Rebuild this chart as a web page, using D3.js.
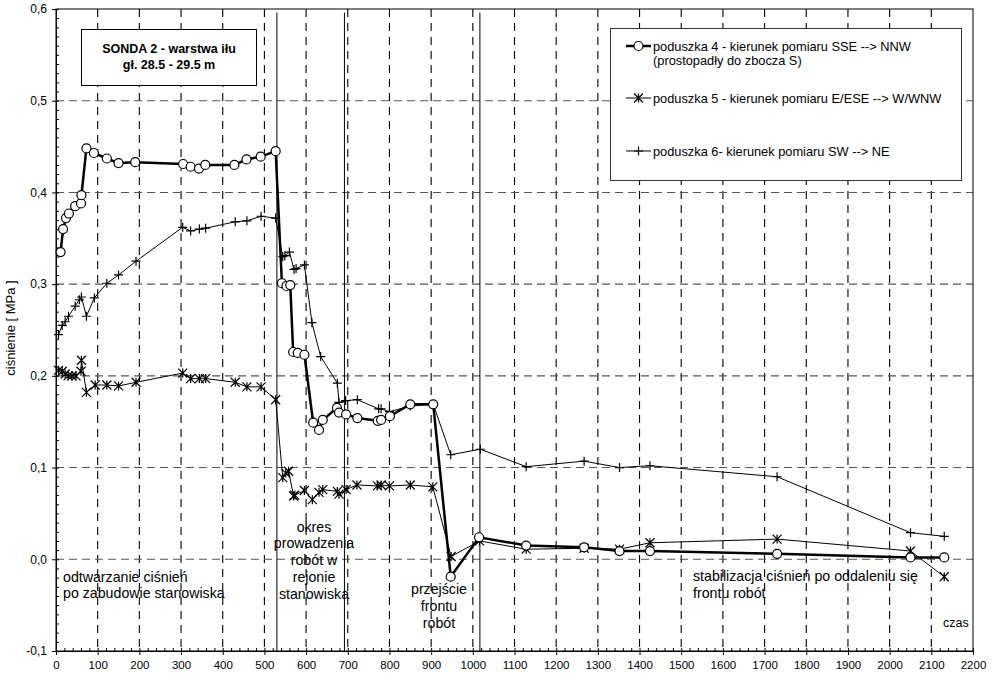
<!DOCTYPE html>
<html>
<head>
<meta charset="utf-8">
<script src="https://cdn.jsdelivr.net/npm/d3@7"></script>
<style>
    body { margin: 0; background: #fff; }
    svg { display: block; font-family: "Liberation Sans", Arial, sans-serif; }
</style>
</head>
<body>
<div id="chart"></div>
<script>
'use strict';

// czas (x) and ciśnienie [MPa] (y)
var s4Time = [11, 17, 24, 31, 46, 60, 61, 73, 91, 122, 150, 190, 305, 323, 343, 358, 428, 457, 491, 527,
    542, 553, 562, 569, 580, 596, 617, 631, 640, 674, 679, 696, 723, 772, 780, 801, 850, 905,
    947, 1015, 1128, 1267, 1352, 1425, 1730, 2050, 2131];
var s4Value = [0.335, 0.360, 0.372, 0.377, 0.385, 0.388, 0.397, 0.448, 0.443, 0.437, 0.432, 0.433, 0.431, 0.428, 0.426, 0.430, 0.430, 0.436, 0.439, 0.445,
    0.301, 0.298, 0.299, 0.226, 0.225, 0.223, 0.149, 0.141, 0.152, 0.165, 0.160, 0.158, 0.154, 0.151, 0.152, 0.156, 0.169, 0.169,
    -0.019, 0.024, 0.015, 0.013, 0.009, 0.009, 0.006, 0.002, 0.002];

var s5Time = [6, 15, 22, 29, 38, 48, 60, 61, 73, 94, 122, 150, 192, 304, 323, 344, 359, 430, 458, 492, 527,
    544, 551, 558, 570, 573, 596, 615, 631, 640, 675, 679, 696, 722, 771, 780, 800, 850, 904,
    948, 1016, 1128, 1267, 1352, 1425, 1730, 2050, 2131];
var s5Value = [0.206, 0.205, 0.202, 0.200, 0.200, 0.200, 0.205, 0.217, 0.182, 0.190, 0.190, 0.189, 0.193, 0.203, 0.197, 0.197, 0.197, 0.193, 0.188, 0.188, 0.174,
    0.089, 0.094, 0.096, 0.069, 0.070, 0.075, 0.065, 0.073, 0.076, 0.074, 0.071, 0.076, 0.081, 0.080, 0.081, 0.080, 0.081, 0.079,
    0.003, 0.020, 0.011, 0.012, 0.011, 0.018, 0.022, 0.009, -0.019];

var s6Time = [6, 15, 22, 30, 46, 56, 61, 73, 92, 122, 150, 192, 304, 323, 344, 359, 430, 458, 492, 527,
    544, 549, 560, 571, 576, 596, 614, 635, 675, 679, 695, 723, 774, 780, 800, 850, 905,
    947, 1018, 1128, 1267, 1352, 1425, 1730, 2050, 2131];
var s6Value = [0.245, 0.255, 0.259, 0.265, 0.276, 0.283, 0.286, 0.265, 0.285, 0.301, 0.310, 0.325, 0.362, 0.358, 0.360, 0.361, 0.368, 0.369, 0.374, 0.372,
    0.330, 0.331, 0.335, 0.316, 0.317, 0.321, 0.258, 0.221, 0.192, 0.171, 0.173, 0.174, 0.164, 0.164, 0.161, 0.167, 0.169,
    0.114, 0.120, 0.101, 0.107, 0.100, 0.102, 0.090, 0.029, 0.025];

var seriesNames = [
    ['poduszka 4 - kierunek pomiaru SSE --> NNW', '(prostopadły do zbocza S)'],
    ['poduszka 5 - kierunek pomiaru E/ESE --> W/WNW'],
    ['poduszka 6- kierunek pomiaru SW --> NE']
];
var phaseBounds = [530, 692, 1017];
var xTicks = d3.range(0, 2201, 100);
var yTicks = [-0.1, 0.0, 0.1, 0.2, 0.3, 0.4, 0.5, 0.6];

(function () {
    var svgWidth = 994, svgHeight = 676;
    var plotLeft = 56, plotRight = 973, plotTop = 9, plotBottom = 651;

    var x = d3.scaleLinear().domain([0, 2200]).range([plotLeft, plotRight]);
    var y = d3.scaleLinear().domain([-0.1, 0.6]).range([plotBottom, plotTop]);

    var svg = d3.select('#chart').append('svg')
        .attr('width', svgWidth)
        .attr('height', svgHeight);

    // grid
    svg.append('g').selectAll('line')
        .data(xTicks.slice(1, -1))
        .enter().append('line')
        .attr('x1', x).attr('x2', x)
        .attr('y1', plotTop).attr('y2', plotBottom)
        .attr('stroke', '#000').attr('stroke-width', 1.1)
        .attr('stroke-dasharray', '8,6');

    svg.append('g').selectAll('line')
        .data(yTicks.slice(1, -1))
        .enter().append('line')
        .attr('x1', plotLeft).attr('x2', plotRight)
        .attr('y1', y).attr('y2', y)
        .attr('stroke', '#555').attr('stroke-width', 1.1)
        .attr('stroke-dasharray', '8,5');

    // phase boundaries
    svg.append('g').selectAll('line')
        .data(phaseBounds)
        .enter().append('line')
        .attr('x1', x).attr('x2', x)
        .attr('y1', y(0.596)).attr('y2', plotBottom)
        .attr('stroke', '#000').attr('stroke-width', 1);

    // frame
    svg.append('rect')
        .attr('x', plotLeft).attr('y', plotTop)
        .attr('width', plotRight - plotLeft).attr('height', plotBottom - plotTop)
        .attr('fill', 'none').attr('stroke', '#000').attr('stroke-width', 1);

    // axes
    var commaFormat = function (d) {
        return d3.format('.1f')(d).replace('.', ',').replace('\u2212', '-');
    };

    var yAxis = svg.append('g')
        .attr('transform', 'translate(' + plotLeft + ',0)')
        .call(d3.axisLeft(y).tickValues(yTicks).tickFormat(commaFormat).tickSize(4).tickSizeOuter(0).tickPadding(5));
    yAxis.selectAll('text').attr('font-size', 12).attr('fill', '#000');

    svg.append('g')
        .attr('transform', 'translate(' + plotLeft + ',0)')
        .call(d3.axisRight(y).ticks(70).tickFormat('').tickSize(3).tickSizeOuter(0))
        .select('.domain').remove();

    var xAxis = svg.append('g')
        .attr('transform', 'translate(0,' + plotBottom + ')')
        .call(d3.axisBottom(x).tickValues(xTicks).tickFormat(d3.format('d')).tickSize(4).tickSizeOuter(0).tickPadding(6));
    xAxis.selectAll('text').attr('font-size', 11.5).attr('fill', '#000');

    svg.append('g')
        .attr('transform', 'translate(0,' + plotBottom + ')')
        .call(d3.axisTop(x).tickValues(d3.range(0, 2201, 20)).tickFormat('').tickSize(3).tickSizeOuter(0))
        .select('.domain').remove();

    svg.selectAll('.tick line').attr('stroke', '#000');
    svg.selectAll('.domain').attr('stroke', '#000');

    // series
    var line = d3.line()
        .x(function (d) { return x(d[0]); })
        .y(function (d) { return y(d[1]); });

    function zipSeries(times, values) {
        return times.map(function (t, i) { return [t, values[i]]; });
    }

    var s4 = zipSeries(s4Time, s4Value),
        s5 = zipSeries(s5Time, s5Value),
        s6 = zipSeries(s6Time, s6Value);

    function drawStar(g, px, py) {
        var r = 4.5;
        g.append('path')
            .attr('d', 'M' + (px - r) + ',' + (py - r) + 'L' + (px + r) + ',' + (py + r) +
                'M' + (px - r) + ',' + (py + r) + 'L' + (px + r) + ',' + (py - r) +
                'M' + px + ',' + (py - r) + 'L' + px + ',' + (py + r))
            .attr('stroke', '#000').attr('stroke-width', 1.2).attr('fill', 'none');
    }

    function drawPlus(g, px, py) {
        var r = 4.5;
        g.append('path')
            .attr('d', 'M' + (px - r) + ',' + py + 'L' + (px + r) + ',' + py +
                'M' + px + ',' + (py - r) + 'L' + px + ',' + (py + r))
            .attr('stroke', '#000').attr('stroke-width', 1.2).attr('fill', 'none');
    }

    function drawCircle(g, px, py) {
        g.append('circle')
            .attr('cx', px).attr('cy', py).attr('r', 4.5)
            .attr('fill', '#fff').attr('stroke', '#000').attr('stroke-width', 1.2);
    }

    var plot = svg.append('g');

    plot.append('path').datum(s6).attr('d', line)
        .attr('fill', 'none').attr('stroke', '#000').attr('stroke-width', 1);
    var g6 = plot.append('g');
    s6.forEach(function (d) { drawPlus(g6, x(d[0]), y(d[1])); });

    plot.append('path').datum(s5).attr('d', line)
        .attr('fill', 'none').attr('stroke', '#000').attr('stroke-width', 1);
    var g5 = plot.append('g');
    s5.forEach(function (d) { drawStar(g5, x(d[0]), y(d[1])); });

    plot.append('path').datum(s4).attr('d', line)
        .attr('fill', 'none').attr('stroke', '#000').attr('stroke-width', 2.5);
    var g4 = plot.append('g');
    s4.forEach(function (d) { drawCircle(g4, x(d[0]), y(d[1])); });

    // title box
    svg.append('rect')
        .attr('x', 81.5).attr('y', 29.5).attr('width', 175).attr('height', 56)
        .attr('fill', '#fff').attr('stroke', '#000').attr('stroke-width', 1);
    svg.append('text')
        .attr('x', 169).attr('y', 53).attr('text-anchor', 'middle')
        .attr('font-size', 12.5).attr('font-weight', 'bold')
        .text('SONDA 2 - warstwa iłu');
    svg.append('text')
        .attr('x', 169).attr('y', 69).attr('text-anchor', 'middle')
        .attr('font-size', 12.5).attr('font-weight', 'bold')
        .text('gł. 28.5 - 29.5 m');

    // legend
    var legend = svg.append('g');
    legend.append('rect')
        .attr('x', 610.5).attr('y', 28.5).attr('width', 351).attr('height', 152)
        .attr('fill', '#fff').attr('stroke', '#333').attr('stroke-width', 1);

    var legendRows = [46, 98, 151];
    var legendMarkers = [drawCircle, drawStar, drawPlus];
    legendRows.forEach(function (ly, i) {
        legend.append('line')
            .attr('x1', 626).attr('x2', 651).attr('y1', ly).attr('y2', ly)
            .attr('stroke', '#000').attr('stroke-width', i === 0 ? 2.5 : 1);
        legendMarkers[i](legend, 638.5, ly);
        seriesNames[i].forEach(function (txt, j) {
            legend.append('text')
                .attr('x', 653).attr('y', ly + 4.5 + j * 14)
                .attr('font-size', 12.8)
                .text(txt);
        });
    });

    // y label
    svg.append('text')
        .attr('transform', 'translate(15,328) rotate(-90)')
        .attr('text-anchor', 'middle')
        .attr('font-size', 13)
        .text('ciśnienie  [ MPa ]');

    // phase annotations
    var notes = [
        {x: 63, y: 581.5, anchor: 'start', lines: ['odtwarzanie ciśnień', 'po zabudowie stanowiska']},
        {x: 314, y: 531.5, anchor: 'middle', lines: ['okres', 'prowadzenia', 'robót w', 'rejonie', 'stanowiska']},
        {x: 439, y: 594, anchor: 'middle', lines: ['przejście', 'frontu', 'robót']},
        {x: 693, y: 581, anchor: 'start', lines: ['stabilizacja ciśnień po oddaleniu się', 'frontu robót']}
    ];
    notes.forEach(function (n) {
        var t = svg.append('text')
            .attr('x', n.x).attr('y', n.y)
            .attr('text-anchor', n.anchor)
            .attr('font-size', 14.2);
        n.lines.forEach(function (l, i) {
            t.append('tspan')
                .attr('x', n.x)
                .attr('dy', i === 0 ? 0 : 16.8)
                .text(l);
        });
    });

    svg.append('text')
        .attr('x', 943).attr('y', 627)
        .attr('font-size', 12.5)
        .text('czas');
})();
</script>
</body>
</html>
